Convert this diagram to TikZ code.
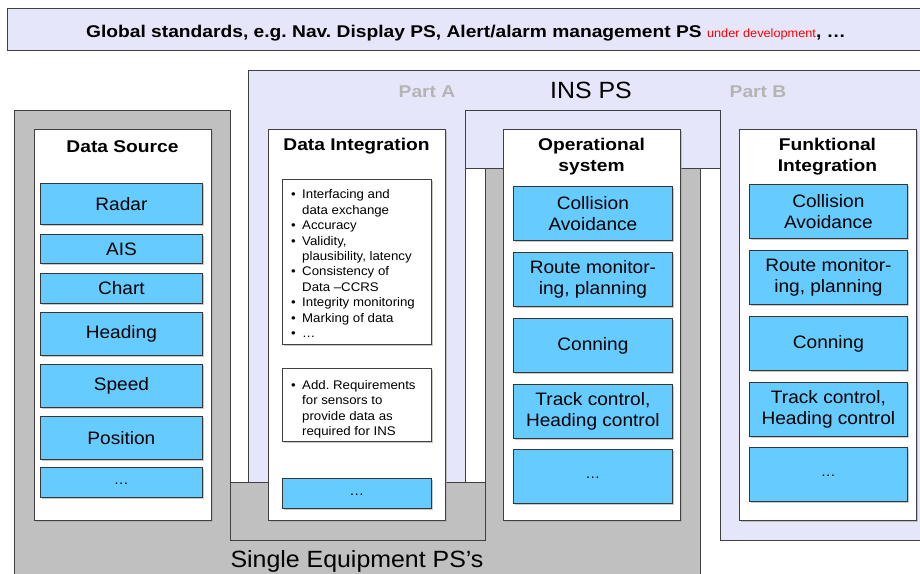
\documentclass[tikz,border=0pt]{standalone}
\usepackage{fontspec}
\setmainfont{Liberation Sans}[FakeStretch=1.06]
\newfontfamily\boldwide{Liberation Sans Bold}[FakeStretch=1.13]
\usetikzlibrary{shadows}
\definecolor{lav}{HTML}{E6E6FA}
\definecolor{frame}{HTML}{C0C0C0}
\definecolor{sky}{HTML}{66CCFF}
\definecolor{edge}{HTML}{404040}
\definecolor{partgray}{HTML}{B4B4B4}
\newcommand\blk[6]{\node[bluebox, minimum width=#4, minimum height=#5] (#1) at (#2,#3) {#6};}
\newcommand\bul{\makebox[11pt][l]{•}}
\newcommand\moredots{\raisebox{-5pt}{\fontsize{14}{14}\selectfont\dots}}
\frenchspacing
\begin{document}
\begin{tikzpicture}[x=1pt,y=-1pt,
  region/.style={draw=edge, line width=0.8pt},
  shade/.style={drop shadow={shadow xshift=1.3pt, shadow yshift=-1.3pt, fill=black!35, opacity=0.6}},
  column/.style={draw=edge, fill=white, line width=0.8pt, inner sep=0pt, anchor=north west, shade},
  bluebox/.style={draw=edge!85!black, fill=sky, line width=0.8pt, inner sep=0pt, anchor=north west,
    align=center, font=\fontsize{18}{21.5}\selectfont, shade},
  coltitle/.style={font=\boldwide\fontsize{17}{21}\selectfont, align=center, inner sep=0pt},
  listtext/.style={anchor=north west, inner sep=0pt, align=left, font=\fontsize{12.5}{15.4}\selectfont},
  bigtext/.style={font=\fontsize{23.5}{26}\selectfont, inner sep=0pt},
  parttext/.style={font=\boldwide\fontsize{17}{20}\selectfont, text=partgray, inner sep=0pt}]
\useasboundingbox (0,0) rectangle (920,573);
\begin{scope}
\clip (0,0) rectangle (920,573);

% global standards banner
\draw[region, fill=lav] (7,8) rectangle (940,50);
\node[font=\boldwide\fontsize{17}{20}\selectfont, inner sep=0pt] (glob) at (466,33)
  {Global standards, e.g. Nav. Display PS, Alert/alarm management PS {\rmfamily\fontsize{12}{14}\selectfont\color{red}under development}, …};

% INS PS area
\draw[region, fill=lav] (248,70) -- (940,70) -- (940,540) -- (720,540) -- (720,168)
  -- (465,168) -- (465,482) -- (248,482) -- cycle;
\draw[region, fill=lav] (465,110) rectangle (720,168);

% single equipment area
\draw[region, fill=frame] (14,600) -- (14,110) -- (230,110) -- (230,540) -- (485,540)
  -- (485,168) -- (700,168) -- (700,600);
\draw[region, fill=frame] (230,482) rectangle (485,540);

\node[parttext] (partA) at (427,92) {Part A};
\node[bigtext] (insps) at (591,90) {INS PS};
\node[parttext] (partB) at (758,92) {Part B};
\node[bigtext, anchor=base] (single) at (357,567) {Single Equipment PS’s};

% columns
\node[column, minimum width=177, minimum height=391] (dsrc) at (34,129) {};
\node[column, minimum width=177, minimum height=391] (dint) at (268,129) {};
\node[column, minimum width=177, minimum height=391] (opsys) at (503,129) {};
\node[column, minimum width=177, minimum height=391] (funk) at (739,129) {};

\node[coltitle] (dsrcT) at (122.5,146.5) {Data Source};
\node[coltitle] (dintT) at (356.5,146.5) {Data Integration};
\node[coltitle] (opsysT) at (591.5,157) {Operational\\system};
\node[coltitle] (funkT) at (827.5,157) {Funktional\\Integration};

% data sources
\blk{radar}{40}{183}{162}{41}{Radar}
\blk{ais}{40}{234}{162}{29}{AIS}
\blk{chart}{40}{273}{162}{30}{Chart}
\blk{heading}{40}{312}{162}{43}{Heading}
\blk{speed}{40}{364}{162}{43}{Speed}
\blk{position}{40}{416}{162}{43}{Position}
\blk{dsmore}{40}{467}{162}{30}{\moredots}

% data integration
\node[column, minimum width=149, minimum height=165] (reqbox) at (282,179) {};
\node[listtext] (reqlist) at (291,188) {%
  \begin{tabular}{@{}l@{}l@{}}
  \bul & Interfacing and\\
       & data exchange\\
  \bul & Accuracy\\
  \bul & Validity,\\
       & plausibility, latency\\
  \bul & Consistency of\\
       & Data –CCRS\\
  \bul & Integrity monitoring\\
  \bul & Marking of data\\
  \bul & …
  \end{tabular}};
\node[column, minimum width=149, minimum height=73] (addbox) at (282,368) {};
\node[listtext] (addlist) at (291,378.5) {%
  \begin{tabular}{@{}l@{}l@{}}
  \bul & Add. Requirements\\
       & for sensors to\\
       & provide data as\\
       & required for INS
  \end{tabular}};
\blk{dimore}{282}{478}{149}{30}{\moredots}

% operational system
\blk{opca}{513}{186}{159}{54}{Collision\\Avoidance}
\blk{oprm}{513}{252}{159}{54}{Route monitor-\\ing, planning}
\blk{opcon}{513}{318}{159}{54}{Conning}
\blk{optc}{513}{384}{159}{54}{Track control,\\Heading control}
\blk{opmore}{513}{449}{159}{54}{\moredots}

% functional integration
\blk{fica}{749}{184}{158}{54}{Collision\\Avoidance}
\blk{firm}{749}{250}{158}{54}{Route monitor-\\ing, planning}
\blk{ficon}{749}{316}{158}{54}{Conning}
\blk{fitc}{749}{382}{158}{54}{Track control,\\Heading control}
\blk{fimore}{749}{447}{158}{54}{\moredots}
\end{scope}
\end{tikzpicture}
\end{document}
